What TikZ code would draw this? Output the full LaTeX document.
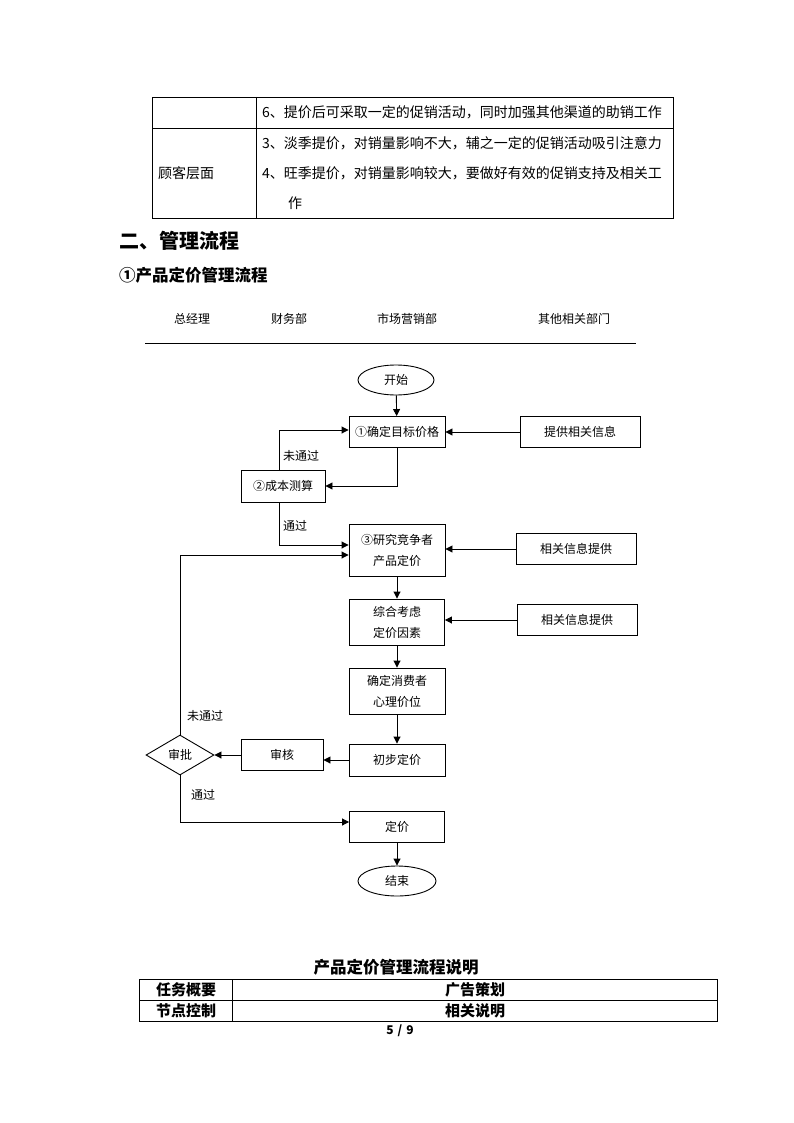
\documentclass[tikz,border=0pt]{standalone}
\usepackage{fontspec}
\setmainfont{Noto Sans CJK SC}
\usetikzlibrary{arrows.meta,shapes.geometric}

\tikzset{
  flow/.style={draw, line width=0.9pt, minimum width=96pt, minimum height=31pt, inner sep=0pt, font=\fontsize{12}{21}\selectfont, align=center},
  infobox/.style={flow, minimum width=120pt},
  term/.style={draw, ellipse, line width=0.9pt, minimum width=76pt, minimum height=30pt, inner sep=0pt, font=\fontsize{12}{14}\selectfont},
  check/.style={draw, diamond, line width=0.9pt, minimum width=68pt, minimum height=40pt, inner sep=0pt, font=\fontsize{12}{14}\selectfont},
  arr/.style={line width=0.9pt, -{Triangle[length=7pt,width=7pt]}},
  lbl/.style={font=\fontsize{12}{14}\selectfont, inner sep=0pt},
  cell/.style={font=\fontsize{14}{16}\selectfont, inner sep=0pt, anchor=west}
}

\begin{document}
\begin{tikzpicture}[x=1pt, y=-1pt]
  %%%%% PAGE %%%%%
  \useasboundingbox[fill=white] (0,0) rectangle (794,1123);

  %%%%% TOP TABLE %%%%%
  \draw[line width=0.9pt] (152,97) rectangle (673,218);
  \draw[line width=0.9pt] (152,128) -- (673,128);
  \draw[line width=0.9pt] (256,97) -- (256,218);
  \node[cell] (row6) at (262,112) {6、提价后可采取一定的促销活动，同时加强其他渠道的助销工作};
  \node[cell] (row3) at (262,143) {3、淡季提价，对销量影响不大，辅之一定的促销活动吸引注意力};
  \node[cell] (row4) at (262,173) {4、旺季提价，对销量影响较大，要做好有效的促销支持及相关工};
  \node[cell] (row4b) at (288,203) {作};
  \node[cell] (custom) at (158,173) {顾客层面};

  %%%%% HEADINGS %%%%%
  \node[anchor=west, inner sep=0pt, font=\fontsize{20}{22}\selectfont\bfseries] (sec2) at (119,241) {二、管理流程};
  \node[anchor=west, inner sep=0pt, font=\fontsize{16.5}{18}\selectfont\bfseries] (sub1) at (119,275) {①产品定价管理流程};

  %%%%% LANES %%%%%
  \node[lbl] (gm) at (192,319) {总经理};
  \node[lbl] (fin) at (289,319) {财务部};
  \node[lbl] (mkt) at (407,319) {市场营销部};
  \node[lbl] (other) at (574,319) {其他相关部门};
  \draw[line width=0.9pt] (145,343) -- (636,343);

  %%%%% FLOW NODES %%%%%
  \node[term] (start) at (396,380) {开始};
  \node[flow] (goal) at (397,432) {①确定目标价格};
  \node[infobox] (info1) at (580,432) {提供相关信息};
  \node[flow, minimum width=84pt, minimum height=32pt] (cost) at (283,486) {②成本测算};
  \node[flow, minimum height=52pt] (study) at (397,550) {③研究竞争者\\产品定价};
  \node[infobox] (info2) at (576,549) {相关信息提供};
  \node[flow, minimum width=95pt, minimum height=46pt] (factor) at (397,622) {综合考虑\\定价因素};
  \node[infobox] (info3) at (577,620) {相关信息提供};
  \node[flow, minimum height=46pt] (mind) at (397,691) {确定消费者\\心理价位};
  \node[flow, minimum height=32pt] (first) at (397,760) {初步定价};
  \node[flow, minimum width=82pt] (audit) at (282,755) {审核};
  \node[check] (approve) at (180,755) {审批};
  \node[flow, minimum width=95pt] (price) at (397,827) {定价};
  \node[term, minimum width=78pt] (finish) at (397,881) {结束};

  %%%%% LABELS %%%%%
  \node[lbl] (nopass1) at (301,456) {未通过};
  \node[lbl] (pass1) at (295,526) {通过};
  \node[lbl] (nopass2) at (205,716) {未通过};
  \node[lbl] (pass2) at (203,795) {通过};

  %%%%% CONNECTORS %%%%%
  \draw[arr] (start) -- (goal);
  \draw[arr] (info1) -- (goal);
  \draw[arr] (goal.south) |- (cost.east);
  \draw[arr] ([xshift=-4pt]cost.north) |- ([yshift=2pt]goal.west);
  \draw[arr] ([xshift=-4pt]cost.south) |- ([yshift=5pt]study.west);
  \draw[arr] (info2) -- (study.east |- info2);
  \draw[arr] (study) -- (factor);
  \draw[arr] (info3) -- (factor.east |- info3);
  \draw[arr] (factor) -- (mind);
  \draw[arr] (mind) -- (first);
  \draw[arr] (first.west) -- (audit.east |- first.west);
  \draw[arr] (audit) -- (approve);
  \draw[arr] (approve.north) |- ([yshift=-5pt]study.west);
  \draw[arr] (approve.south) |- ([yshift=5pt]price.west);
  \draw[arr] (price) -- (finish);

  %%%%% BOTTOM TABLE %%%%%
  \node[inner sep=0pt, font=\fontsize{16.5}{18}\selectfont\bfseries] (title) at (396,967) {产品定价管理流程说明};
  \draw[line width=0.9pt] (139,979) rectangle (717,1021);
  \draw[line width=0.9pt] (139,1000) -- (717,1000);
  \draw[line width=0.9pt] (232,979) -- (232,1021);
  \node[inner sep=0pt, font=\fontsize{15}{16}\selectfont\bfseries] (task) at (186,989.5) {任务概要};
  \node[inner sep=0pt, font=\fontsize{15}{16}\selectfont\bfseries] (ad) at (475,989.5) {广告策划};
  \node[inner sep=0pt, font=\fontsize{15}{16}\selectfont\bfseries] (node) at (186,1010.5) {节点控制};
  \node[inner sep=0pt, font=\fontsize{15}{16}\selectfont\bfseries] (desc) at (475,1010.5) {相关说明};
  \node[inner sep=0pt, font=\fontsize{12}{14}\selectfont\bfseries] (page) at (400,1031) {5\,\,/\,\,9};
\end{tikzpicture}
\end{document}
